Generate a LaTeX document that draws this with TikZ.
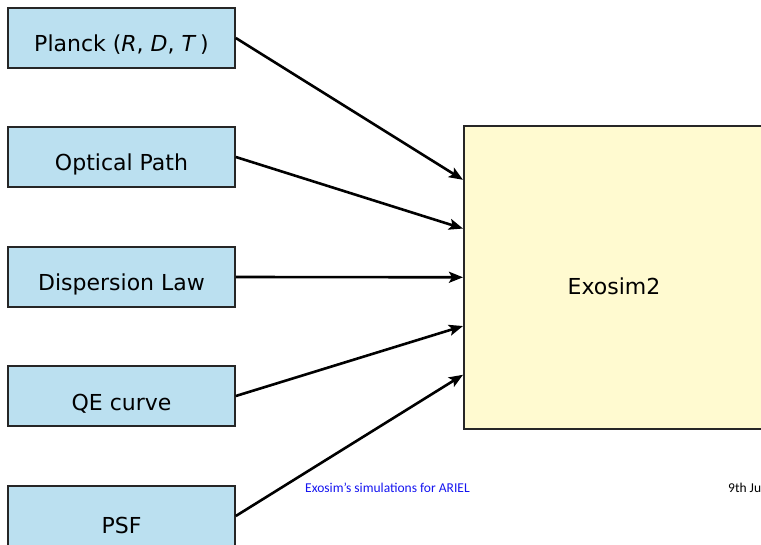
\documentclass[tikz,border=0pt]{standalone}
\usepackage{fontspec}
\setmainfont{DejaVu Sans}
\newfontfamily\footfont{Carlito}
\usetikzlibrary{arrows.meta,calc}
\definecolor{inbox}{RGB}{187,224,240}
\definecolor{corebox}{RGB}{255,250,208}
\definecolor{footblue}{RGB}{20,20,240}
\tikzset{
  inputbox/.style={draw=black!85, line width=1.6pt, fill=inbox, minimum width=227pt, minimum height=60pt, inner sep=0pt},
  corestyle/.style={draw=black!85, line width=1.6pt, fill=corebox, inner sep=0pt},
  label/.style={font=\fontsize{22}{26}\selectfont, inner sep=0pt},
  feed/.style={line width=2.6pt, -{Stealth[length=14pt,width=11pt,inset=3pt]}},
  foot/.style={font=\footfont\fontsize{13.5}{16}\selectfont, inner sep=0pt, anchor=base west}
}
\begin{document}
\begin{tikzpicture}[x=1pt,y=-1pt]
  \useasboundingbox (0,0) rectangle (761,545);
  \clip (0,0) rectangle (761,545);

  % main simulator block
  \node[corestyle, minimum width=340pt, minimum height=303pt, anchor=north west] (core) at (463,125) {};
  \node[label] (coretext) at (614,286) {Exosim2};

  % input blocks
  \node[inputbox] (planck) at (121.5,38) {};
  \node[inputbox] (optic)  at (121.5,157) {};
  \node[inputbox] (disp)   at (121.5,277) {};
  \node[inputbox] (qe)     at (121.5,396) {};
  \node[inputbox] (psf)    at (121.5,516) {};

  \node[label] at (121.5,45)  {Planck (\textit{R}, \textit{D}, \textit{T}\,)};
  \node[label] at (121.5,164) {Optical Path};
  \node[label] at (121.5,284) {Dispersion Law};
  \node[label] at (121.5,404) {QE curve};
  \node[label] at (121.5,525) {PSF};

  % entry points on the left side of the main block
  \coordinate (in1) at ($(core.north west)!0.18!(core.south west)$);
  \coordinate (in2) at ($(core.north west)!0.34!(core.south west)$);
  \coordinate (in3) at ($(core.north west)!0.5!(core.south west)$);
  \coordinate (in4) at ($(core.north west)!0.66!(core.south west)$);
  \coordinate (in5) at ($(core.north west)!0.82!(core.south west)$);

  \draw[feed] (planck.east) -- (in1);
  \draw[feed] (optic.east)  -- (in2);
  \draw[feed] (disp.east)   -- (in3);
  \draw[feed] (qe.east)     -- (in4);
  \draw[feed] (psf.east)    -- (in5);

  % footer line
  \node[foot, text=footblue] (foottitle) at (305,492) {Exosim’s simulations for ARIEL};
  \node[foot] (footdate) at (728,492) {9th Ju};
\end{tikzpicture}
\end{document}
